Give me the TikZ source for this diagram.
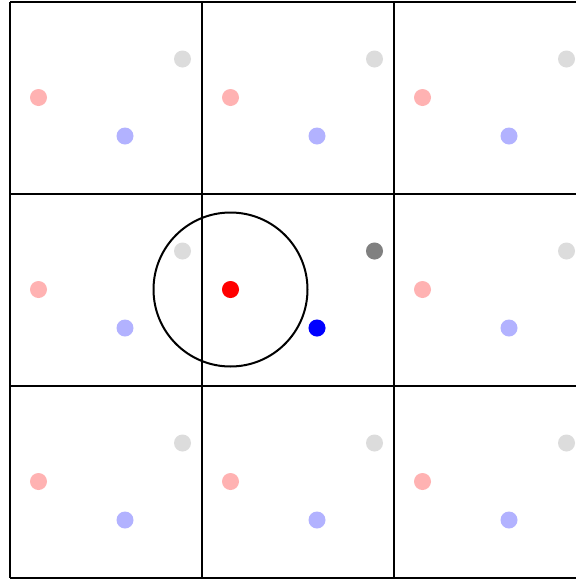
\documentclass[tikz,border=0pt]{standalone}
\definecolor{lred}{RGB}{255,178,178}
\definecolor{lblue}{RGB}{178,178,255}
\definecolor{lgray}{RGB}{220,220,220}
\definecolor{dgray}{RGB}{128,128,128}
\begin{document}
\begin{tikzpicture}[x=1pt,y=-1pt,
  dot/.style={circle,inner sep=0pt,minimum size=17pt,fill=#1},
  gridline/.style={line width=2pt,black}]
\useasboundingbox (0,0) rectangle (576,579);
\clip (0,0) rectangle (576,579);
\fill[white] (0,0) rectangle (576,579);
% grid
\foreach \i in {0,1,2,3}{
  \draw[gridline] (10+192*\i,2) -- (10+192*\i,578);
  \draw[gridline] (10,2+192*\i) -- (586,2+192*\i);
}
% periodic images
\foreach \cx in {0,1,2}{
  \foreach \cy in {0,1,2}{
    \pgfmathsetmacro{\ox}{10+192*\cx}
    \pgfmathsetmacro{\oy}{2+192*\cy}
    \node[dot=lred] (r\cx\cy) at (\ox+28.5,\oy+95.5) {};
    \node[dot=lblue] (b\cx\cy) at (\ox+115,\oy+134) {};
    \node[dot=lgray] (g\cx\cy) at (\ox+172.5,\oy+57) {};
  }
}
% central cell
\node[dot=red] (R) at (230.5,289.5) {};
\node[dot=blue] (B) at (317,328) {};
\node[dot=dgray] (G) at (374.5,251) {};
\node[circle,draw,line width=2pt,minimum size=154pt,inner sep=0pt] (cut) at (R) {};
\end{tikzpicture}
\end{document}
